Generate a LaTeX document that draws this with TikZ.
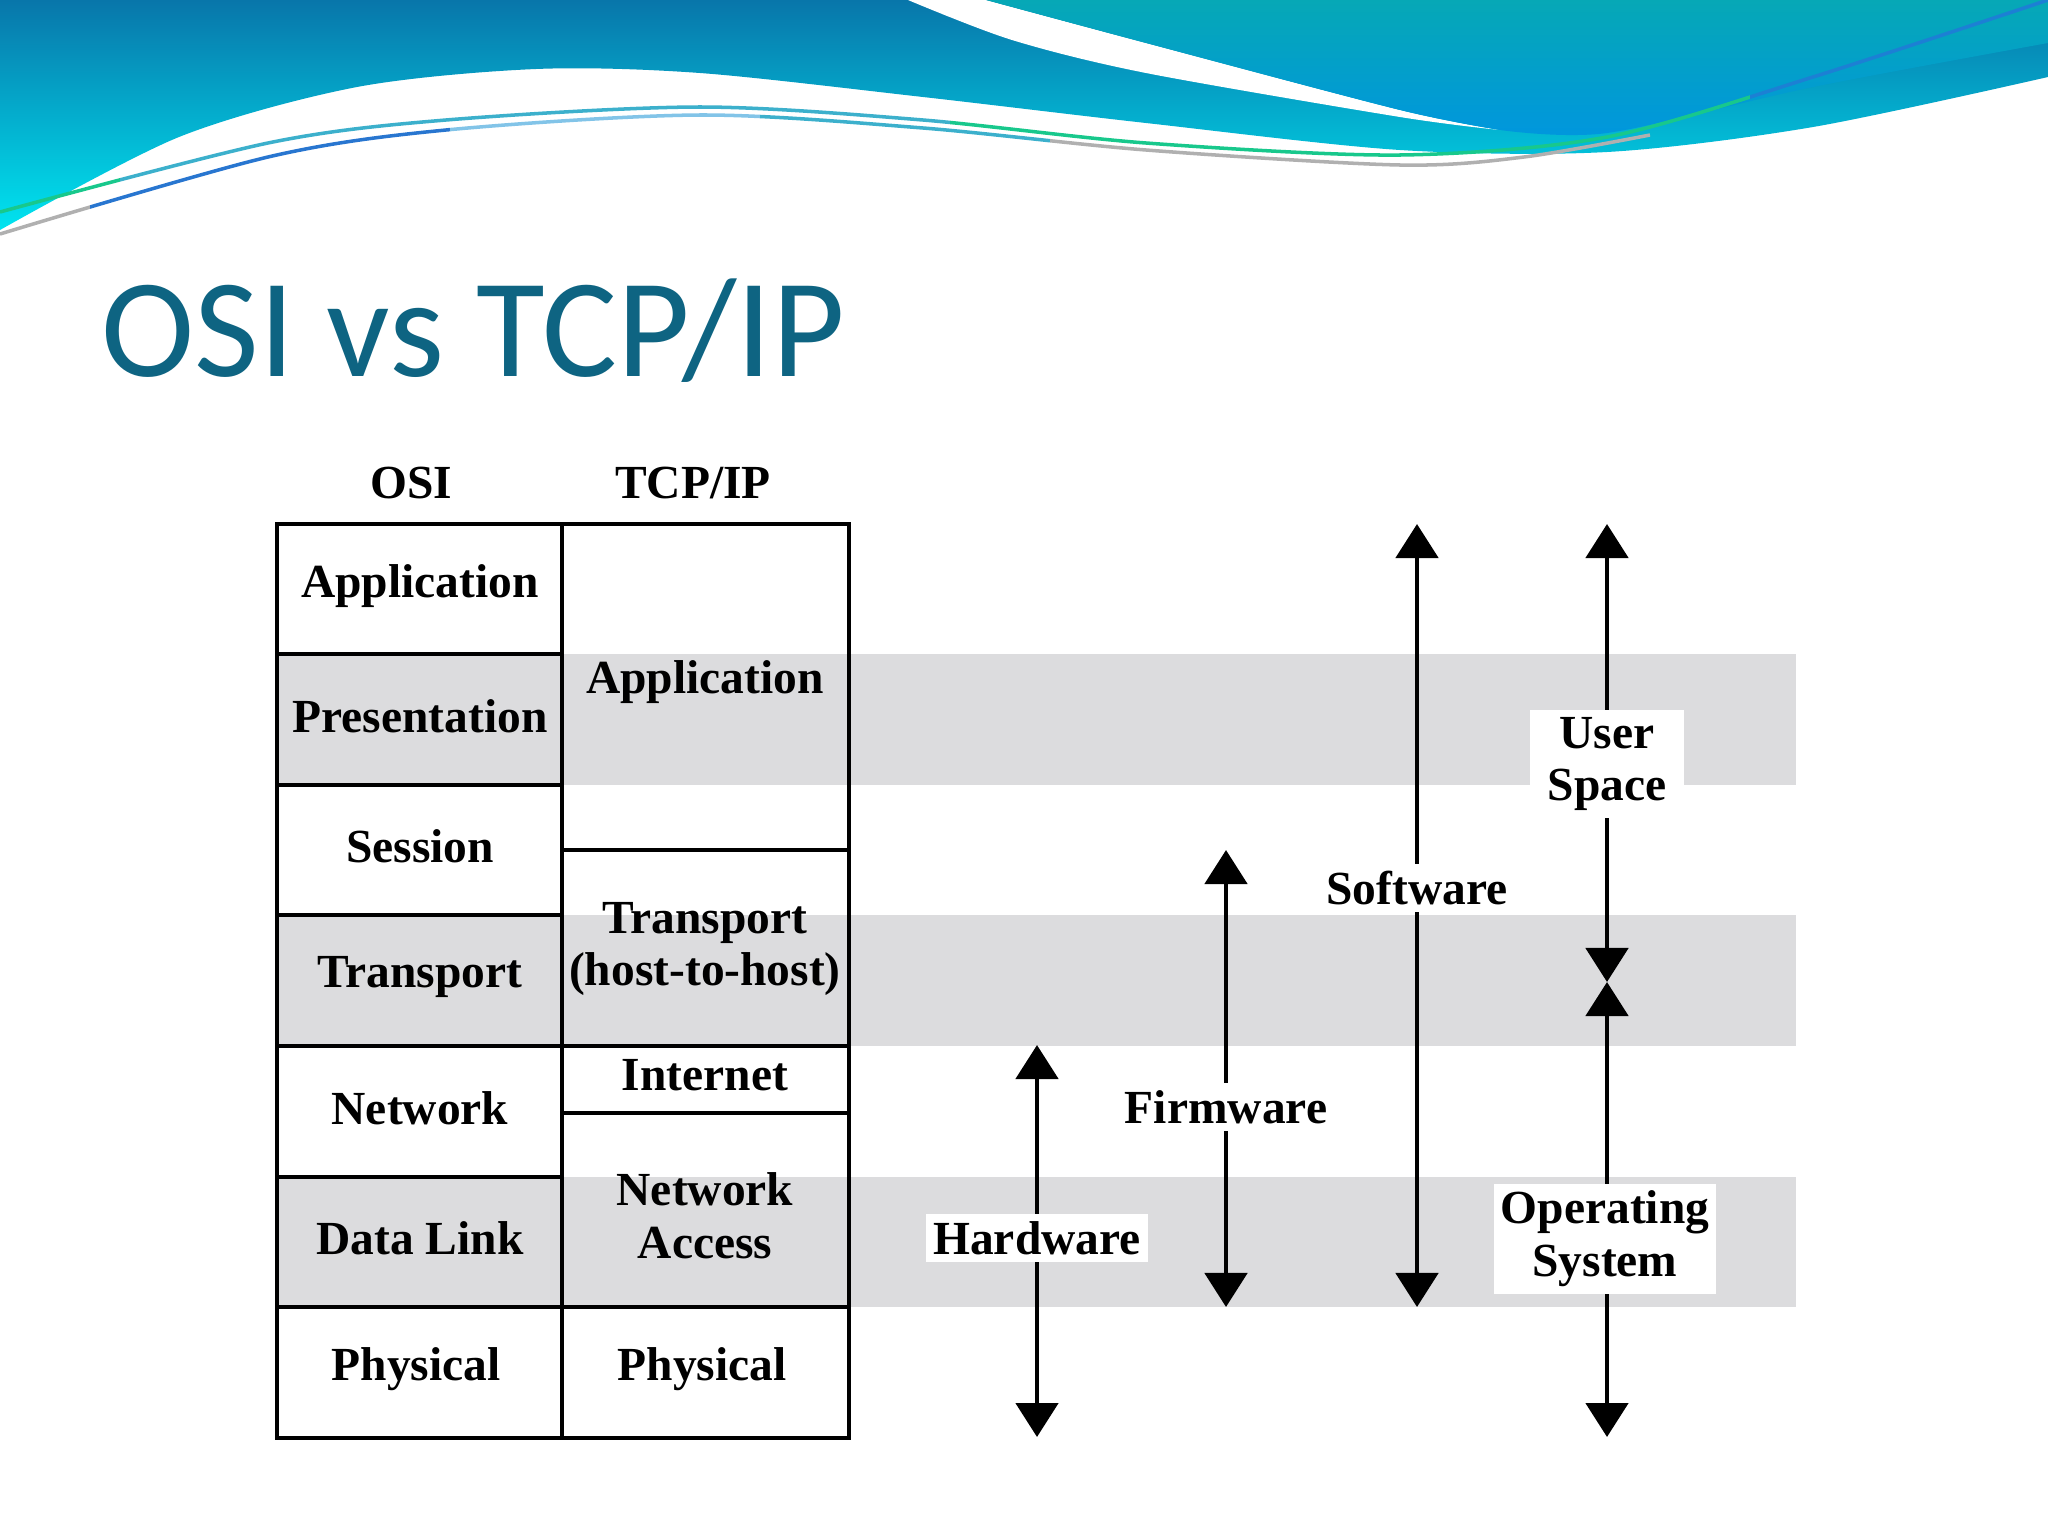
\documentclass[tikz,border=0pt]{standalone}
\usepackage{fontspec}
\setmainfont{Liberation Serif}
\newfontfamily\titlefont{Carlito}
\usetikzlibrary{arrows.meta}
\definecolor{titleblue}{RGB}{14,100,130}
\definecolor{bandgray}{RGB}{220,220,222}
\definecolor{wavedark}{RGB}{8,118,170}
\definecolor{wavecyan}{RGB}{0,228,240}
\definecolor{rtop}{RGB}{6,168,182}
\definecolor{rbot}{RGB}{0,150,222}
\definecolor{lineteal}{RGB}{60,176,204}
\definecolor{linegreen}{RGB}{24,200,140}
\definecolor{lineblue}{RGB}{40,118,208}
\definecolor{linelblue}{RGB}{130,196,232}
\definecolor{linegray}{RGB}{176,176,176}
\tikzset{
  layer/.style={font=\bfseries\fontsize{13.5}{15}\selectfont, align=center, inner sep=0pt},
  grid/.style={line width=1.3pt, draw=black},
  dbl/.style={line width=1.4pt, {Triangle[length=0.34cm,width=0.42cm]}-{Triangle[length=0.34cm,width=0.42cm]}},
  lbl/.style={font=\bfseries\fontsize{13.5}{15}\selectfont, align=center, fill=white, inner xsep=2pt, inner ysep=2pt},
  band/.style={fill=bandgray},
  wline/.style={line width=1pt},
}
\begin{document}
\begin{tikzpicture}[x=0.01cm, y=-0.01cm]
\useasboundingbox (0,0) rectangle (2048,1536);
\fill[white] (0,0) rectangle (2048,1536);
% header wave
\shade[top color=wavedark, bottom color=wavecyan] (0,0) -- (2048,0) -- plot[smooth] coordinates {(2048,77) (1813,127) (1607,152) (1400,150) (1146,123) (923,97) (700,73) (536,69) (357,87) (179,137) (0,230)} -- cycle;
\fill[white] plot[smooth] coordinates {(908,0) (1012,40) (1146,73) (1400,117) (1500,130)} -- plot[smooth] coordinates {(1500,130) (1400,110) (1146,43) (986,0)} -- cycle;
\shade[top color=rtop, bottom color=rbot] (986,0) -- (2048,0) -- plot[smooth] coordinates {(2048,43) (1813,87) (1607,133) (1500,130)} -- plot[smooth] coordinates {(1500,130) (1400,110) (1146,43) (986,0)} -- cycle;
% thin lines
\def\lineA{plot[smooth] coordinates {(0,212) (268,143) (446,120) (700,107) (923,120) (1146,143) (1400,155) (1607,137) (1813,77) (2048,0)}}
\def\lineB{plot[smooth] coordinates {(0,234) (268,157) (446,130) (700,115) (923,128) (1146,150) (1400,165) (1524,157) (1650,135)}}
\begin{scope}\clip (0,0) rectangle (120,300); \draw[wline, linegreen] \lineA; \end{scope}
\begin{scope}\clip (120,0) rectangle (950,300); \draw[wline, lineteal] \lineA; \end{scope}
\begin{scope}\clip (950,0) rectangle (1750,300); \draw[wline, linegreen] \lineA; \end{scope}
\begin{scope}\clip (1750,0) rectangle (2048,300); \draw[wline, lineblue!70!rbot] \lineA; \end{scope}
\begin{scope}\clip (0,0) rectangle (90,300); \draw[wline, linegray] \lineB; \end{scope}
\begin{scope}\clip (90,0) rectangle (450,300); \draw[wline, lineblue] \lineB; \end{scope}
\begin{scope}\clip (450,0) rectangle (760,300); \draw[wline, linelblue] \lineB; \end{scope}
\begin{scope}\clip (760,0) rectangle (1050,300); \draw[wline, lineteal] \lineB; \end{scope}
\begin{scope}\clip (1050,0) rectangle (1650,300); \draw[wline, linegray] \lineB; \end{scope}
% title
\node[anchor=base west, font=\titlefont\fontsize{40}{48}\selectfont, text=titleblue, inner sep=0pt] (title) at (101,376) {OSI vs TCP/IP};
% bands
\fill[band] (277,654) rectangle (1796,785);
\fill[band] (277,915) rectangle (1796,1046);
\fill[band] (277,1177) rectangle (1796,1307);
% table grid
\draw[grid] (277,524) rectangle (562,654);
\draw[grid] (277,654) rectangle (562,785);
\draw[grid] (277,785) rectangle (562,915);
\draw[grid] (277,915) rectangle (562,1046);
\draw[grid] (277,1046) rectangle (562,1177);
\draw[grid] (277,1177) rectangle (562,1307);
\draw[grid] (277,1307) rectangle (562,1438);
\draw[grid] (562,524) rectangle (849,850);
\draw[grid] (562,850) rectangle (849,1046);
\draw[grid] (562,1046) rectangle (849,1113);
\draw[grid] (562,1113) rectangle (849,1307);
\draw[grid] (562,1307) rectangle (849,1438);
% headers
\node[layer] (hOSI) at (411,483) {OSI};
\node[layer] (hTCP) at (693,483) {TCP/IP};
% OSI layers
\node[layer] (oApp) at (420,586) {Application};
\node[layer] (oPre) at (420,716) {Presentation};
\node[layer] (oSes) at (420,846) {Session};
\node[layer] (oTra) at (420,977) {Transport};
\node[layer] (oNet) at (420,1108) {Network};
\node[layer] (oDat) at (420,1238) {Data Link};
\node[layer] (oPhy) at (416,1369) {Physical};
% TCP/IP layers
\node[layer] (tApp) at (705,682) {Application};
\node[layer] (tTra) at (705,949) {Transport\\(host-to-host)};
\node[layer] (tInt) at (705,1075) {Internet};
\node[layer] (tNet) at (705,1216) {Network\\Access};
\node[layer] (tPhy) at (702,1369) {Physical};
% arrows
\coordinate (hwT) at (1037,1045);
\coordinate (hwB) at (1037,1437);
\coordinate (fwT) at (1226,850);
\coordinate (fwB) at (1226,1307);
\coordinate (swT) at (1417,524);
\coordinate (swB) at (1417,1307);
\coordinate (usT) at (1607,524);
\coordinate (usM) at (1607,982);
\coordinate (osB) at (1607,1437);
\draw[dbl] (hwT) -- (hwB);
\draw[dbl] (fwT) -- (fwB);
\draw[dbl] (swT) -- (swB);
\draw[dbl] (usT) -- (usM);
\draw[dbl] (usM) -- (osB);
\node[lbl] (hw) at (1037,1238) {Hardware};
\node[lbl] (fw) at (1226,1107) {Firmware};
\node[lbl] (sw) at (1417,888) {Software};
\node[lbl, inner xsep=5pt] (us) at (1607,764) {User\\Space};
\node[lbl] (os) at (1605,1239) {Operating\\System};
\end{tikzpicture}
\end{document}
